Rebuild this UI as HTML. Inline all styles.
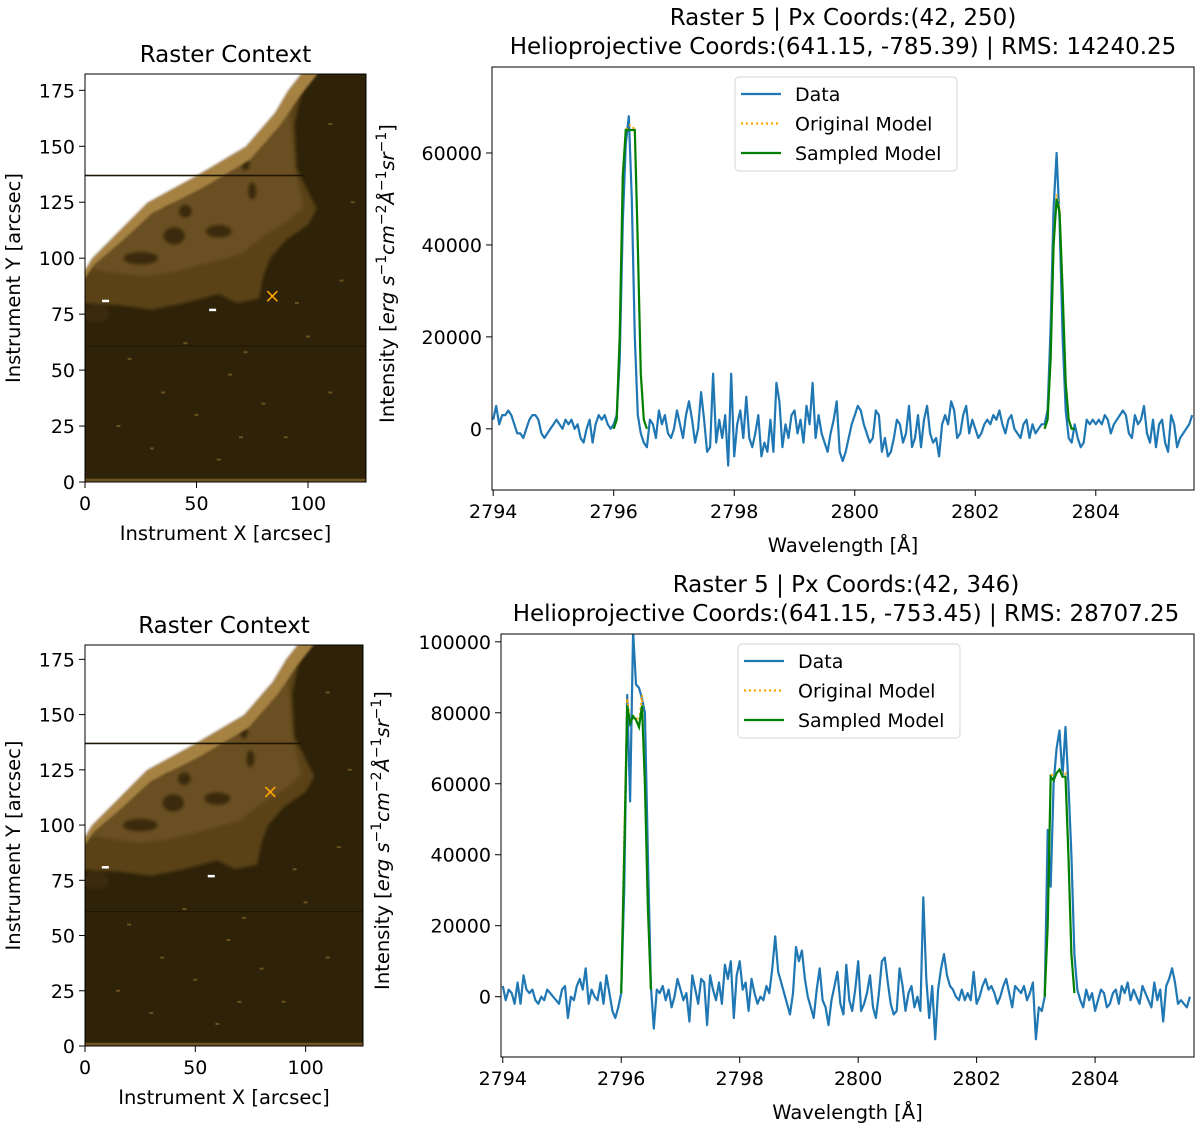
<!DOCTYPE html>
<html><head><meta charset="utf-8">
<style>
html,body{margin:0;padding:0;background:#fff;}
svg{display:block;font-family:"DejaVu Sans","Liberation Sans",sans-serif;}
</style></head>
<body>
<svg id="fig" width="1200" height="1132" viewBox="0 0 1200 1132" xmlns="http://www.w3.org/2000/svg">
<defs>
<filter id="blur1" x="-5%" y="-5%" width="110%" height="110%"><feGaussianBlur stdDeviation="1.6"/></filter>
<filter id="blur2" x="-5%" y="-5%" width="110%" height="110%"><feGaussianBlur stdDeviation="1"/></filter>
</defs>
</svg>
<script>
// ---------- data ----------
const wlStart = 2794.0;
const wlStep = 0.05;
const topData = [2,5,1,3,3,4,3,1,-1,-1,
-2,0,2,3,3,2,-1,-2,-1,0,
1,2,1,0,2,1,2,0,1,-2,
-3,0,2,-3,1,3,2,3,1,0,
1,3,15,45,62,68,50,20,3,-1,
-3,-4,2,1,-2,4,1,3,-1,-2,
0,4,1,-2,3,6,2,-3,0,8,
2,-5,-4,12,-3,2,-2,3,-8,12,
-6,1,4,-2,7,-2,-4,-1,3,-6,
-3,-5,2,-5,10,6,-4,1,-2,3,
4,-1,2,-3,5,1,10,-2,3,-1,
-3,-5,-1,2,6,-5,-7,-5,-2,1,
3,5,4,1,-1,-3,-2,4,3,-5,
-2,-6,-5,-2,2,1,-3,-1,5,-4,
-2,3,-4,2,5,-1,-3,-2,-6,1,
3,1,6,4,-2,-1,3,5,-1,2,
0,-2,-1,1,2,1,3,2,4,1,
-1,2,3,0,-1,-2,1,2,-2,1,
-1,0,1,1,4,22,48,60,45,20,
4,-2,-3,1,-2,-4,-3,2,1,2,
1,2,1,3,2,-1,1,2,3,4,
3,-1,-2,3,1,2,5,-1,-3,2,
-4,1,2,-3,-5,3,1,-4,-2,-1,
0,1,3];
const botData = [3,-1,2,1,-2,4,-2,6,2,1,
2,-1,-2,0,-1,2,1,0,-1,-2,
2,3,-6,0,-1,3,5,2,8,-2,
2,0,-1,4,-2,6,1,-4,-6,-3,
1,30,85,55,103,88,87,84,80,40,
3,-9,2,1,3,-1,2,-3,0,5,
2,-1,1,-7,6,2,-2,5,4,-8,
6,2,-1,4,-2,9,5,10,-6,6,
10,2,4,-4,5,1,-2,0,-1,3,
1,8,17,7,4,1,-2,-5,1,14,
10,13,5,0,-3,-6,2,8,-1,-3,
-8,-1,3,7,-2,-5,9,-1,-4,2,
10,-4,-2,1,6,-3,-6,1,10,11,
4,-2,-5,-4,8,3,-4,1,3,-3,
0,-4,28,5,-6,3,-12,2,8,12,
6,3,2,0,-1,2,-1,1,-1,7,
-2,0,3,5,2,3,1,-2,0,3,
5,1,-3,3,2,1,3,-1,1,4,
-12,-3,-4,0,47,31,60,70,75,62,
76,60,40,12,2,-1,-3,2,-1,1,
-4,-1,2,1,-3,-2,1,2,-2,3,
1,4,-1,2,0,-2,3,1,-1,-3,
4,-1,2,-7,3,5,8,4,-2,-1,
-2,-3,0];
const topModelA_start = 2796.0;
const topSampledA = [0,2,20,55,65,65,65,65,40,12,2,0];
const topOriginalA = [0,2,21,56,65,66,66,65,41,12,2,0];
const topModelB_start = 2803.15;
const topSampledB = [0,2,15,40,50,47,30,10,2,0,0];
const topOriginalB = [0,2,16,41,51,48,31,10,2,0,0];
const botModelA_start = 2796.0;
const botSampledA = [1,40,82,77,79,78,76,82,60,25,2];
const botOriginalA = [1,45,84,78,79,79,77,85,60,25,2];
const botModelB_start = 2803.15;
const botSampledB = [0,20,62,61,63,64,62,62,40,12,1];
const botOriginalB = [0,22,63,62,63,64,63,63,41,12,1];
const xTicks = [2794,2796,2798,2800,2802,2804];
const topYTicks = [0,20000,40000,60000];
const botYTicks = [0,20000,40000,60000,80000,100000];
const rasterXTicks = [0,50,100];
const rasterYTicks = [0,25,50,75,100,125,150,175];
const topMarker = [84,83];
const botMarker = [84,115];

const NS="http://www.w3.org/2000/svg";
const svg=document.getElementById('fig');
function mk(tag,attrs,parent){const e=document.createElementNS(NS,tag);for(const k in attrs)e.setAttribute(k,attrs[k]);(parent||svg).appendChild(e);return e;}

// ---------- raster panels ----------
function raster(ax, marker, idp){
  const g=mk('g',{});
  
  
  const sx=v=>ax.x0+v*(ax.x1-ax.x0)/ax.xmax;
  const sy=v=>ax.y1-v*(ax.y1-ax.y0)/ax.ymax;
  const clipId=idp+'clip';
  const cp=mk('clipPath',{id:clipId},svg);mk('rect',{x:ax.x0,y:ax.y0,width:ax.x1-ax.x0,height:ax.y1-ax.y0},cp);
  const img=mk('g',{'clip-path':'url(#'+clipId+')'},g);
  
  
  mk('rect',{x:ax.x0,y:ax.y0,width:ax.x1-ax.x0,height:ax.y1-ax.y0,fill:'#2e2209'},img);
  const P=pts=>pts.map(p=>sx(p[0]).toFixed(1)+','+sy(p[1]).toFixed(1)).join(' ');
  const bl=mk('g',{filter:'url(#blur1)'},img);
  mk('polygon',{points:P([[-5,92],[-5,80],[15,79],[30,77],[45,80],[60,84],[68,80],[78,82],[80,92],[83,100],[90,108],[100,115],[104,122],[100,130],[95,140],[94,160],[98,178],[106,186],[-5,186]]),fill:'#5a4318'},bl);
  mk('polygon',{points:P([[-5,97],[10,94],[25,92],[40,94],[55,98],[70,102],[80,110],[90,116],[98,123],[94,140],[92,165],[100,186],[-5,186]]),fill:'#6a5020'},bl);
  [[40,110,5,4],[45,121,3,3],[36,125,2,2],[84,162,5,2],[75,130,2,4],[72,142,2,3],[5,75,6,4],[60,112,6,3],[25,100,8,3]].forEach(b=>{
    mk('ellipse',{cx:sx(b[0]),cy:sy(b[1]),rx:b[2]*2.2,ry:b[3]*2.2,fill:'#3a2b0d'},bl);});
  // transition tan + white (separate layer)
  const wl=mk('g',{filter:'url(#blur2)'},img);
  mk('polygon',{points:P([[-5,92],[0,91],[4,97],[17,108],[30,120],[52,131],[74,144],[88,160],[96,172],[104,182],[106,190],[-5,190]]),fill:'#a58242'},wl);
  mk('polygon',{points:P([[-5,96],[0,95],[3,100],[15,112],[28,125],[50,137],[72,150],[85,165],[91,175],[98,184],[98,195],[-5,195]]),fill:'#ffffff'},wl);
  [[20,55],[35,40],[50,30],[65,48],[72,58],[90,20],[110,40],[100,65],[115,90],[30,15],[60,10],[80,35],[45,62],[95,80],[120,125],[110,160],[15,25],[70,20]].forEach(p=>
    mk('rect',{x:sx(p[0])-2,y:sy(p[1])-1,width:4,height:2,fill:'#6a5220'},img));
  mk('rect',{x:sx(0),y:sy(137.3),width:sx(98)-sx(0),height:1.6,fill:'#1e1604'},img);
  mk('rect',{x:sx(0),y:sy(61),width:ax.x1-ax.x0,height:0.8,fill:'#1a1303'},img);
  mk('rect',{x:sx(0),y:sy(1.5),width:ax.x1-ax.x0,height:sy(0)-sy(1.5),fill:'#6e5420'},img);
  [[9,81],[57,77]].forEach(p=>mk('rect',{x:sx(p[0])-3,y:sy(p[1])-1,width:7,height:2.5,fill:'#fff'},img));
  const mx=sx(marker[0]),my=sy(marker[1]);
  const m=mk('path',{d:`M${mx-5},${my-5}L${mx+5},${my+5}M${mx-5},${my+5}L${mx+5},${my-5}`,stroke:'#ffa500','stroke-width':1.6},g);
  
  
  mk('rect',{x:ax.x0,y:ax.y0,width:ax.x1-ax.x0,height:ax.y1-ax.y0,fill:'none',stroke:'#000','stroke-width':1},g);
  rasterXTicks.forEach(t=>{const x=sx(t);mk('line',{x1:x,x2:x,y1:ax.y1,y2:ax.y1+6,stroke:'#000'},g);
    const tt=mk('text',{x:x,y:ax.y1+28,'font-size':19,'text-anchor':'middle'},g);tt.textContent=t;});
  rasterYTicks.forEach(t=>{const y=sy(t);mk('line',{x1:ax.x0-6,x2:ax.x0,y1:y,y2:y,stroke:'#000'},g);
    const tt=mk('text',{x:ax.x0-10,y:y+7,'font-size':19,'text-anchor':'end'},g);tt.textContent=t;});
  const ti=mk('text',{x:(ax.x0+ax.x1)/2,y:ax.y0-12,'font-size':23,'text-anchor':'middle'},g);ti.textContent='Raster Context';
  
  const xl=mk('text',{x:(ax.x0+ax.x1)/2,y:ax.y1+58,'font-size':19.5,'text-anchor':'middle'},g);xl.textContent='Instrument X [arcsec]';
  
  const yc=(ax.y0+ax.y1)/2;
  const yl=mk('text',{x:20,y:yc,'font-size':19.5,'text-anchor':'middle',transform:`rotate(-90 20 ${yc})`},g);yl.textContent='Instrument Y [arcsec]';
  
}
raster({x0:85,x1:366,y0:74,y1:482,xmax:126,ymax:182.3},topMarker,'top');
raster({x0:85,x1:363,y0:645,y1:1046,xmax:126,ymax:181.5},botMarker,'bottom');

// ---------- spectrum panels ----------
function spectrum(ax, data, mA, mB, yTicks, title1, title2, leg, idp){
  const g=mk('g',{});
  
  
  const sx=v=>ax.x0+(v-ax.xmin)*(ax.x1-ax.x0)/(ax.xmax-ax.xmin);
  const sy=v=>ax.y1-(v-ax.ymin)*(ax.y1-ax.y0)/(ax.ymax-ax.ymin);
  const clipId=idp+'sclip';
  const cp=mk('clipPath',{id:clipId},svg);mk('rect',{x:ax.x0,y:ax.y0,width:ax.x1-ax.x0,height:ax.y1-ax.y0},cp);
  const pg=mk('g',{'clip-path':'url(#'+clipId+')'},g);
  const pathOf=(start,arr)=>arr.map((v,i)=>(i?'L':'M')+sx(start+i*wlStep).toFixed(1)+','+sy(v*1000).toFixed(1)).join('');
  const d=mk('path',{d:pathOf(wlStart,data),fill:'none',stroke:'#1f77b4','stroke-width':2.2,'stroke-linejoin':'round'},pg);
  
  
  [mA,mB].forEach((m,k)=>{
    const o=mk('path',{d:pathOf(m.start,m.orig),fill:'none',stroke:'#ffa500','stroke-width':2,'stroke-dasharray':'2,3'},pg);
    
    
    const s=mk('path',{d:pathOf(m.start,m.samp),fill:'none',stroke:'#008000','stroke-width':2.2},pg);
    
    
  });
  mk('rect',{x:ax.x0,y:ax.y0,width:ax.x1-ax.x0,height:ax.y1-ax.y0,fill:'none',stroke:'#000','stroke-width':1},g);
  xTicks.forEach(t=>{const x=sx(t);mk('line',{x1:x,x2:x,y1:ax.y1,y2:ax.y1+6,stroke:'#000'},g);
    const tt=mk('text',{x:x,y:ax.y1+28,'font-size':19,'text-anchor':'middle'},g);tt.textContent=t;});
  yTicks.forEach(t=>{const y=sy(t);mk('line',{x1:ax.x0-6,x2:ax.x0,y1:y,y2:y,stroke:'#000'},g);
    const tt=mk('text',{x:ax.x0-10,y:y+7,'font-size':19,'text-anchor':'end'},g);tt.textContent=t;});
  const cx=ax.tcx;
  const t1=mk('text',{x:cx,y:ax.y0-42,'font-size':23,'text-anchor':'middle'},g);t1.textContent=title1;
  
  const t2=mk('text',{x:cx,y:ax.y0-13,'font-size':23,'text-anchor':'middle'},g);t2.textContent=title2;
  
  const xl=mk('text',{x:(ax.x0+ax.x1)/2,y:ax.y1+62,'font-size':19.5,'text-anchor':'middle'},g);xl.textContent='Wavelength [Å]';
  
  const yc=(ax.y0+ax.y1)/2-5, lx=ax.yl;
  const yl=mk('text',{x:lx,y:yc,'font-size':19.5,'text-anchor':'middle',transform:`rotate(-90 ${lx} ${yc})`},g);
  
  yl.innerHTML='Intensity [<tspan font-style="italic">erg s</tspan><tspan font-size="14" dy="-8">−1</tspan><tspan font-style="italic" dy="8">cm</tspan><tspan font-size="14" dy="-8">−2</tspan><tspan font-style="italic" dy="8">Å</tspan><tspan font-size="14" dy="-8">−1</tspan><tspan font-style="italic" dy="8">sr</tspan><tspan font-size="14" dy="-8">−1</tspan><tspan dy="8">]</tspan>';
  const lg=mk('g',{},g);
  
  
  mk('rect',{x:leg.x,y:leg.y,width:222,height:94,rx:4,fill:'#fff','fill-opacity':0.85,stroke:'#d5d5d5'},lg);
  const rows=[['Data','#1f77b4',''],['Original Model','#ffa500','2,3'],['Sampled Model','#008000','']];
  rows.forEach((r,i)=>{const y=leg.y+17+i*29.5;
    const ln=mk('line',{x1:leg.x+6,x2:leg.x+46,y1:y,y2:y,stroke:r[1],'stroke-width':2.2,'stroke-dasharray':r[2]||'none'},lg);
    
    const tx=mk('text',{x:leg.x+60,y:y+7,'font-size':19},lg);tx.textContent=r[0];
    });
}
spectrum({x0:492,x1:1194,y0:67,y1:490,xmin:2793.98,xmax:2805.63,ymin:-13300,ymax:78700,yl:394,tcx:843},
  topData,{start:topModelA_start,samp:topSampledA,orig:topOriginalA},{start:topModelB_start,samp:topSampledB,orig:topOriginalB},
  topYTicks,'Raster 5 | Px Coords:(42, 250)','Helioprojective Coords:(641.15, -785.39) | RMS: 14240.25',{x:735,y:77},'top');
spectrum({x0:501,x1:1194,y0:634,y1:1057,xmin:2793.97,xmax:2805.67,ymin:-17000,ymax:102200,yl:389,tcx:846},
  botData,{start:botModelA_start,samp:botSampledA,orig:botOriginalA},{start:botModelB_start,samp:botSampledB,orig:botOriginalB},
  botYTicks,'Raster 5 | Px Coords:(42, 346)','Helioprojective Coords:(641.15, -753.45) | RMS: 28707.25',{x:738,y:644},'bottom');
</script>
</body></html>
